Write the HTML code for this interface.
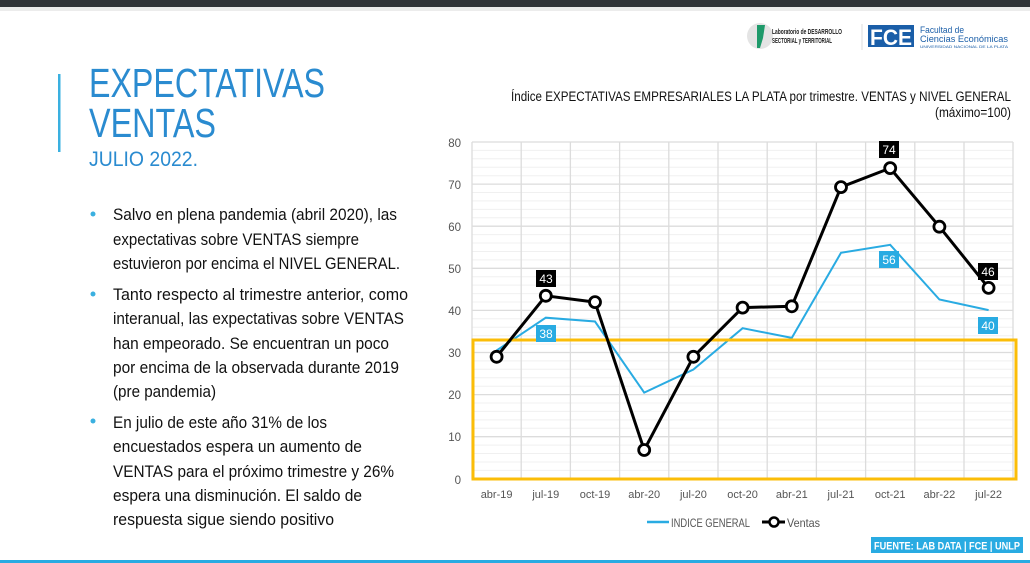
<!DOCTYPE html>
<html><head><meta charset="utf-8"><style>
html,body{margin:0;padding:0;background:#fff;width:1030px;height:563px;overflow:hidden}
svg{display:block}
text{font-family:"Liberation Sans",sans-serif}
</style></head><body>
<svg width="1030" height="563" viewBox="0 0 1030 563" xmlns="http://www.w3.org/2000/svg">
<rect x="0" y="0" width="1030" height="7" fill="#303438"/>
<rect x="0" y="7" width="1030" height="4" fill="#ececec"/>
<!-- logos -->
<ellipse cx="760" cy="36" rx="13" ry="13" fill="#e4e4e4"/>
<path d="M757 25 L765 25 L763 38 L760 48 L757 48 Z" fill="#1e9a6a"/>
<text x="772" y="34" font-size="7.5" font-weight="bold" fill="#222" textLength="70" lengthAdjust="spacingAndGlyphs">Laboratorio de DESARROLLO</text>
<text x="772" y="43" font-size="7.5" font-weight="bold" fill="#222" textLength="60" lengthAdjust="spacingAndGlyphs">SECTORIAL y TERRITORIAL</text>
<line x1="862" y1="24" x2="862" y2="50" stroke="#ddd"/>
<rect x="868" y="25" width="46" height="22" fill="#1a5ea8"/>
<text x="870" y="45" font-size="22" fill="#fff" font-weight="bold" textLength="42" lengthAdjust="spacingAndGlyphs">FCE</text>
<text x="920" y="33" font-size="9" fill="#1a5ea8" textLength="44" lengthAdjust="spacingAndGlyphs">Facultad de</text>
<text x="920" y="42" font-size="9" fill="#1a5ea8" textLength="88" lengthAdjust="spacingAndGlyphs">Ciencias Económicas</text>
<text x="920" y="48" font-size="3.5" fill="#1a5ea8" textLength="88" lengthAdjust="spacingAndGlyphs">UNIVERSIDAD NACIONAL DE LA PLATA</text>
<!-- left -->
<rect x="58" y="74" width="2.5" height="78" fill="#3ab0e0"/>
<text x="89" y="97" font-size="41" fill="#2a8bd0" textLength="236" lengthAdjust="spacingAndGlyphs">EXPECTATIVAS</text>
<text x="89" y="137" font-size="41" fill="#2a8bd0" textLength="127" lengthAdjust="spacingAndGlyphs">VENTAS</text>
<text x="89" y="166" font-size="21" fill="#2a8bd0" textLength="109" lengthAdjust="spacingAndGlyphs">JULIO 2022.</text>
<g fill="#3ab0e0"><circle cx="93" cy="214" r="2.5"/><circle cx="93" cy="294" r="2.5"/><circle cx="93" cy="421" r="2.5"/></g>
<g font-size="17" fill="#111" lengthAdjust="spacingAndGlyphs">
<text x="113" y="220" textLength="284" lengthAdjust="spacingAndGlyphs">Salvo en plena pandemia (abril 2020), las</text>
<text x="113" y="245" textLength="246" lengthAdjust="spacingAndGlyphs">expectativas sobre VENTAS siempre</text>
<text x="113" y="269" textLength="287" lengthAdjust="spacingAndGlyphs">estuvieron por encima el NIVEL GENERAL.</text>
<text x="113" y="300" textLength="295" lengthAdjust="spacingAndGlyphs">Tanto respecto al trimestre anterior, como</text>
<text x="113" y="324" textLength="291" lengthAdjust="spacingAndGlyphs">interanual, las expectativas sobre VENTAS</text>
<text x="113" y="349" textLength="276" lengthAdjust="spacingAndGlyphs">han empeorado. Se encuentran un poco</text>
<text x="113" y="373" textLength="286" lengthAdjust="spacingAndGlyphs">por encima de la observada durante 2019</text>
<text x="113" y="397" textLength="103" lengthAdjust="spacingAndGlyphs">(pre pandemia)</text>
<text x="113" y="428" textLength="214" lengthAdjust="spacingAndGlyphs">En julio de este año 31% de los</text>
<text x="113" y="452" textLength="249" lengthAdjust="spacingAndGlyphs">encuestados espera un aumento de</text>
<text x="113" y="477" textLength="281" lengthAdjust="spacingAndGlyphs">VENTAS para el próximo trimestre y 26%</text>
<text x="113" y="501" textLength="249" lengthAdjust="spacingAndGlyphs">espera una disminución. El saldo de</text>
<text x="113" y="525" textLength="221" lengthAdjust="spacingAndGlyphs">respuesta sigue siendo positivo</text>
</g>
<!-- chart title -->
<text x="1011" y="101" font-size="13.5" fill="#111" text-anchor="end" textLength="500" lengthAdjust="spacingAndGlyphs">Índice EXPECTATIVAS EMPRESARIALES LA PLATA por trimestre. VENTAS y NIVEL GENERAL</text>
<text x="1011" y="117" font-size="13.5" fill="#111" text-anchor="end" textLength="76" lengthAdjust="spacingAndGlyphs">(máximo=100)</text>
<!-- grid -->
<g stroke="#f0f0f0" stroke-width="1">
<path d="M472 150.4H1013M472 158.8H1013M472 167.3H1013M472 175.7H1013M472 192.5H1013M472 200.9H1013M472 209.4H1013M472 217.8H1013M472 234.6H1013M472 243H1013M472 251.5H1013M472 259.9H1013M472 276.7H1013M472 285.1H1013M472 293.6H1013M472 302H1013M472 318.8H1013M472 327.2H1013M472 335.7H1013M472 344.1H1013M472 360.9H1013M472 369.3H1013M472 377.8H1013M472 386.2H1013M472 403H1013M472 411.4H1013M472 419.9H1013M472 428.3H1013M472 445.1H1013M472 453.5H1013M472 462H1013M472 470.4H1013"/>
</g>
<g stroke="#dcdcdc" stroke-width="1.3">
<path d="M472 142H1013M472 184.1H1013M472 226.2H1013M472 268.3H1013M472 310.4H1013M472 352.5H1013M472 394.6H1013M472 436.7H1013M472 479H1013"/>
<path d="M472 142V479M521.2 142V479M570.4 142V479M619.6 142V479M668.8 142V479M718 142V479M767.2 142V479M816.4 142V479M865.6 142V479M914.8 142V479M964 142V479M1013 142V479"/>
</g>
<g font-size="11.5" fill="#555" text-anchor="end">
<text x="461" y="147">80</text><text x="461" y="189">70</text><text x="461" y="231">60</text><text x="461" y="273">50</text><text x="461" y="315">40</text><text x="461" y="357">30</text><text x="461" y="399">20</text><text x="461" y="441">10</text><text x="461" y="484">0</text>
</g>
<g font-size="11" fill="#555" text-anchor="middle">
<text x="496.6" y="498">abr-19</text><text x="545.8" y="498">jul-19</text><text x="595" y="498">oct-19</text><text x="644.2" y="498">abr-20</text><text x="693.4" y="498">jul-20</text><text x="742.6" y="498">oct-20</text><text x="791.8" y="498">abr-21</text><text x="841" y="498">jul-21</text><text x="890.2" y="498">oct-21</text><text x="939.4" y="498">abr-22</text><text x="988.6" y="498">jul-22</text>
</g>
<!-- series -->
<polyline fill="none" stroke="#29abe2" stroke-width="2" points="496.6,350.5 545.8,317.7 595,321.5 644.2,392.6 693.4,369.5 742.6,328.2 791.8,337.9 841,252.8 890.2,244.8 939.4,299.5 988.6,310.1"/>
<rect x="473" y="340" width="543" height="139" fill="none" stroke="#fbbd08" stroke-width="3"/>
<polyline fill="none" stroke="#000" stroke-width="3" points="496.6,356.8 545.8,295.8 595,302.1 644.2,450 693.4,356.8 742.6,307.6 791.8,306.3 841,187.1 890.2,168.1 939.4,226.7 988.6,287.9"/>
<g fill="#fff" stroke="#000" stroke-width="2.8">
<circle cx="496.6" cy="356.8" r="5.5"/><circle cx="545.8" cy="295.8" r="5.5"/><circle cx="595" cy="302.1" r="5.5"/><circle cx="644.2" cy="450" r="5.5"/><circle cx="693.4" cy="356.8" r="5.5"/><circle cx="742.6" cy="307.6" r="5.5"/><circle cx="791.8" cy="306.3" r="5.5"/><circle cx="841" cy="187.1" r="5.5"/><circle cx="890.2" cy="168.1" r="5.5"/><circle cx="939.4" cy="226.7" r="5.5"/><circle cx="988.6" cy="287.9" r="5.5"/>
</g>
<g font-size="12" fill="#fff" text-anchor="middle">
<rect x="536" y="270" width="20" height="17" fill="#000"/><text x="546" y="283">43</text>
<rect x="879" y="141" width="20" height="17" fill="#000"/><text x="889" y="154">74</text>
<rect x="978" y="263" width="20" height="17" fill="#000"/><text x="988" y="276">46</text>
<rect x="536" y="325" width="20" height="17" fill="#29abe2"/><text x="546" y="338">38</text>
<rect x="879" y="251" width="20" height="17" fill="#29abe2"/><text x="889" y="264">56</text>
<rect x="978" y="317" width="20" height="17" fill="#29abe2"/><text x="988" y="330">40</text>
</g>
<!-- legend -->
<line x1="647" y1="522" x2="669" y2="522" stroke="#29abe2" stroke-width="2.5"/>
<text x="671" y="527" font-size="12" fill="#555" textLength="79" lengthAdjust="spacingAndGlyphs">INDICE GENERAL</text>
<line x1="762" y1="522" x2="785" y2="522" stroke="#000" stroke-width="3"/>
<circle cx="774" cy="522" r="4.5" fill="#fff" stroke="#000" stroke-width="2.5"/>
<text x="787" y="527" font-size="12" fill="#555" textLength="33" lengthAdjust="spacingAndGlyphs">Ventas</text>
<!-- footer -->
<rect x="871" y="537" width="152" height="16" fill="#29abe2"/>
<text x="874" y="549.5" font-size="11" font-weight="bold" fill="#fff" textLength="146" lengthAdjust="spacingAndGlyphs">FUENTE: LAB DATA | FCE | UNLP</text>
<rect x="0" y="560" width="1030" height="3" fill="#29abe2"/>
</svg>
</body></html>
